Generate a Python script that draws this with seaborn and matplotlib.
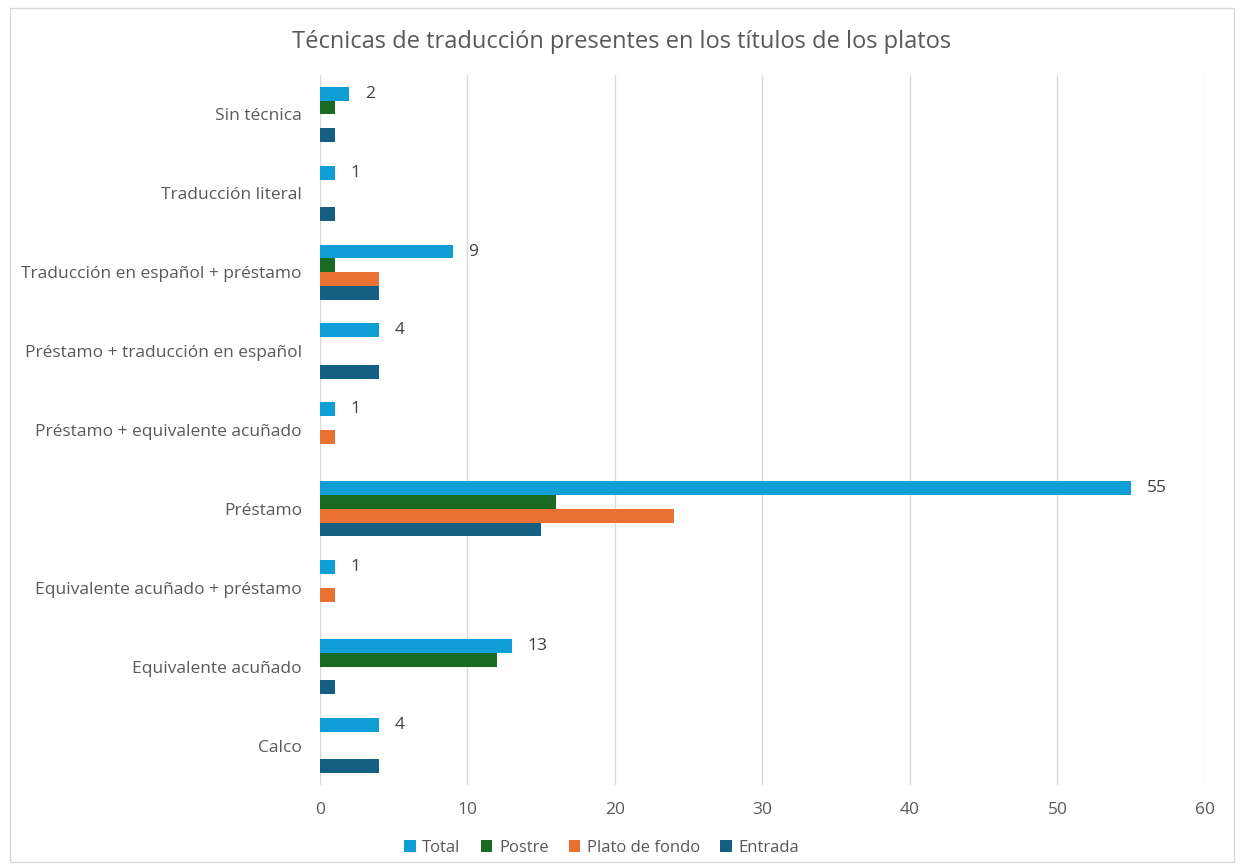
import pandas as pd
import numpy as np
import seaborn as sns
import matplotlib.pyplot as plt
from matplotlib.patches import Rectangle

categorias = ['Sin técnica', 'Traducción literal', 'Traducción en español + préstamo',
              'Préstamo + traducción en español', 'Préstamo + equivalente acuñado',
              'Préstamo', 'Equivalente acuñado + préstamo', 'Equivalente acuñado', 'Calco']
total = [2, 1, 9, 4, 1, 55, 1, 13, 4]
postre = [1, 0, 1, 0, 0, 16, 0, 12, 0]
plato_fondo = [0, 0, 4, 0, 1, 24, 1, 0, 0]
entrada = [1, 1, 4, 4, 0, 15, 0, 1, 4]
series = ['Total', 'Postre', 'Plato de fondo', 'Entrada']
colores = ['#0F9ED5', '#196B24', '#E97132', '#156082']

df = pd.DataFrame({'categoria': categorias, 'Total': total, 'Postre': postre,
                   'Plato de fondo': plato_fondo, 'Entrada': entrada})
df = df.melt(id_vars='categoria', var_name='serie', value_name='valor')

sns.set_style('white')
plt.rcParams['font.family'] = ['Open Sans', 'DejaVu Sans']

fig = plt.figure(figsize=(12.44, 8.67), dpi=100)
ax = fig.add_axes([0.2572, 0.0946, 0.7114, 0.8189])

sns.barplot(data=df, y='categoria', x='valor', hue='serie', order=categorias,
            hue_order=series, palette=colores, orient='h', width=0.7,
            ax=ax, zorder=3, saturation=1, linewidth=0)

# etiquetas solo para Total
ax.bar_label(ax.containers[0], padding=11, fontsize=12.5, color='#404040')

ax.set_xlim(0, 60)
ax.set_ylim(8.5, -0.5)
ax.set_xticks(np.arange(0, 61, 10))
ax.grid(axis='x', color='#d9d9d9', linewidth=1, zorder=0)
ax.grid(axis='y', visible=False)
for s in ax.spines.values():
    s.set_visible(False)
ax.set_xlabel('')
ax.set_ylabel('')
ax.tick_params(axis='both', length=0, labelsize=12.5, labelcolor='#595959')
ax.tick_params(axis='x', pad=12)
ax.tick_params(axis='y', pad=13)

ax.legend(loc='upper center', ncol=4, frameon=False, fontsize=12,
          handlelength=0.7, handleheight=0.7, columnspacing=1.2,
          handletextpad=0.4, labelcolor='#595959')
leg = ax.get_legend()
leg.set_bbox_to_anchor((0.4835, 0.049), transform=fig.transFigure)

fig.suptitle('Técnicas de traducción presentes en los títulos de los platos',
             y=0.965, fontsize=17, color='#595959')

fig.patches.append(Rectangle((0.008, 0.006), 0.984, 0.985, transform=fig.transFigure,
                             fill=False, edgecolor='#d9d9d9', linewidth=1))

fig.savefig('out.png', dpi=100)
